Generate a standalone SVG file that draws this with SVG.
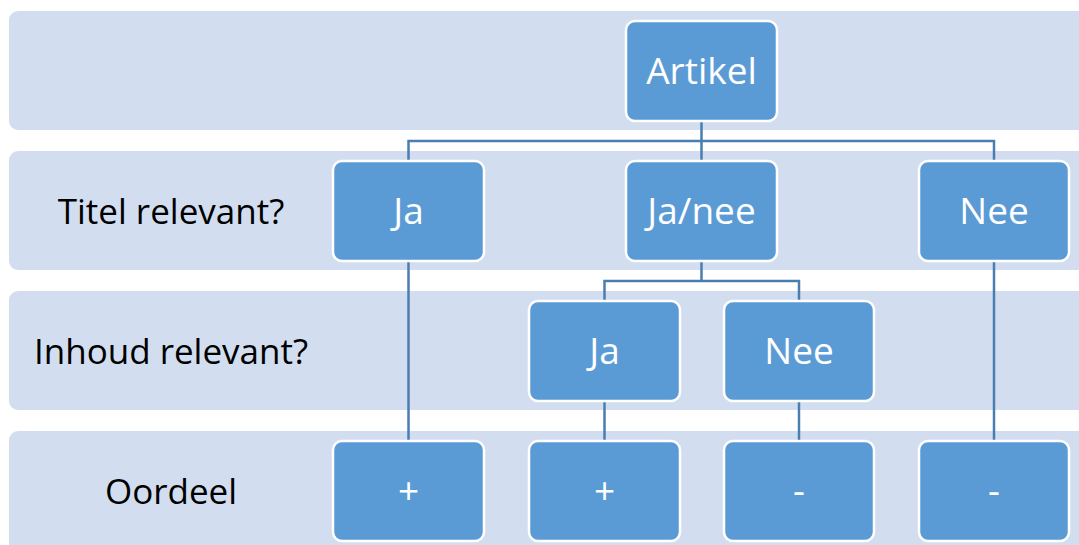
<svg xmlns="http://www.w3.org/2000/svg" width="1079" height="545" viewBox="0 0 1079 545">
  <style>
    .band { fill: #d2deef; }
    .node rect { fill: #5b9bd5; stroke: #ffffff; stroke-width: 2.5; }
    .node text { fill: #ffffff; font-family: "Open Sans", "Noto Sans", sans-serif; font-size: 37px; text-anchor: middle; }
    .label { fill: #000000; font-family: "Open Sans", "Noto Sans", sans-serif; font-size: 35px; text-anchor: middle; }
    .conn path { fill: none; stroke: #4a7db0; stroke-width: 2.5; }
  </style>

  <!-- level bands -->
  <g id="bands">
    <rect class="band" x="9" y="11" width="1090" height="119" rx="9"/>
    <rect class="band" x="9" y="151" width="1090" height="119" rx="9"/>
    <rect class="band" x="9" y="291" width="1090" height="119" rx="9"/>
    <rect class="band" x="9" y="431" width="1090" height="130" rx="9"/>
  </g>

  <!-- level labels -->
  <g id="labels">
    <text class="label" x="171" y="224">Titel relevant?</text>
    <text class="label" x="171" y="364">Inhoud relevant?</text>
    <text class="label" x="171" y="504">Oordeel</text>
  </g>

  <!-- connectors -->
  <g id="connectors" class="conn">
    <path d="M701.5 121 V141 M408.5 161 V141 H994 V161 M701.5 141 V161"/>
    <path d="M701.5 261 V281 M604.5 301 V281 H799 V301"/>
    <path d="M408.5 261 V441"/>
    <path d="M994 261 V441"/>
    <path d="M604.5 401 V441"/>
    <path d="M799 401 V441"/>
  </g>

  <g id="artikel" class="node">
    <rect x="626" y="21" width="151" height="100" rx="9"/>
    <text x="701.5" y="84">Artikel</text>
  </g>

  <g id="titel-ja" class="node">
    <rect x="333" y="161" width="151" height="100" rx="9"/>
    <text x="408.5" y="224">Ja</text>
  </g>
  <g id="titel-janee" class="node">
    <rect x="626" y="161" width="151" height="100" rx="9"/>
    <text x="701.5" y="224">Ja/nee</text>
  </g>
  <g id="titel-nee" class="node">
    <rect x="919" y="161" width="150" height="100" rx="9"/>
    <text x="994" y="224">Nee</text>
  </g>

  <g id="inhoud-ja" class="node">
    <rect x="529" y="301" width="151" height="100" rx="9"/>
    <text x="604.5" y="364">Ja</text>
  </g>
  <g id="inhoud-nee" class="node">
    <rect x="724" y="301" width="150" height="100" rx="9"/>
    <text x="799" y="364">Nee</text>
  </g>

  <g id="oordeel-1" class="node">
    <rect x="333" y="441" width="151" height="100" rx="9"/>
    <text x="408.5" y="504">+</text>
  </g>
  <g id="oordeel-2" class="node">
    <rect x="529" y="441" width="151" height="100" rx="9"/>
    <text x="604.5" y="504">+</text>
  </g>
  <g id="oordeel-3" class="node">
    <rect x="724" y="441" width="150" height="100" rx="9"/>
    <text x="799" y="504">-</text>
  </g>
  <g id="oordeel-4" class="node">
    <rect x="919" y="441" width="150" height="100" rx="9"/>
    <text x="994" y="504">-</text>
  </g>
</svg>
